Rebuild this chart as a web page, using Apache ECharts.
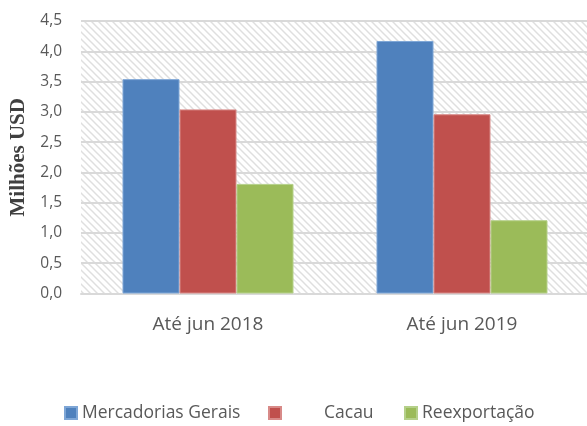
<!DOCTYPE html>
<html><head><meta charset="utf-8">
<script src="https://cdn.jsdelivr.net/npm/echarts@6/dist/echarts.min.js"></script>
<style>html,body{margin:0;padding:0;background:#fff}#c{width:587px;height:426px}</style>
</head><body><div id="c"></div>
<script>
const categories = ['Até jun 2018', 'Até jun 2019'];
const seriesNames = ['Mercadorias Gerais', 'Cacau', 'Reexportação'];
const mercadorias = [3.54, 4.17];
const cacau = [3.04, 2.96];
const reexportacao = [1.81, 1.21];
const yTicks = ['0,0','0,5','1,0','1,5','2,0','2,5','3,0','3,5','4,0','4,5'];
const colors = ['#4f81bd', '#c0504d', '#9bbb59'];
const borders = ['#7ea6d6', '#d88a88', '#b5d08a'];

const pc = document.createElement('canvas');
pc.width = 7; pc.height = 7;
const g = pc.getContext('2d');
g.fillStyle = '#ffffff'; g.fillRect(0,0,7,7);
g.strokeStyle = '#dfdfdf'; g.lineWidth = 1.5;
for (let k = -7; k <= 7; k += 7) { g.beginPath(); g.moveTo(k-1, -1); g.lineTo(k+8, 8); g.stroke(); }

const chart = echarts.init(document.getElementById('c'));
const data = [mercadorias, cacau, reexportacao];
const legendPos = [{left: 64, pad: 0}, {left: 268, pad: 38}, {left: 404, pad: 0}];
chart.setOption({
  animation: false,
  grid: {left: 81, width: 508, top: 21, bottom: 132.5, show: true, borderWidth: 0,
         outerBoundsMode: 'none', containLabel: false,
         backgroundColor: {image: pc, repeat: 'repeat'}},
  legend: seriesNames.map((n, i) => ({
    data: [n], left: legendPos[i].left, top: 404, padding: 0, itemWidth: 12, itemHeight: 12, itemGap: 0,
    icon: 'rect', textStyle: {fontFamily: 'Open Sans', fontSize: 17.5, color: '#595959',
      padding: [0, 0, 0, legendPos[i].pad]}
  })),
  xAxis: {type: 'category', data: categories,
    axisLine: {lineStyle: {color: '#d9d9d9', width: 2}}, axisTick: {show: false},
    axisLabel: {fontFamily: 'Open Sans', fontSize: 19, color: '#595959', margin: 22}},
  yAxis: {type: 'value', min: 0, max: 4.5, interval: 0.5,
    name: 'Milhões USD', nameLocation: 'middle', nameGap: 50, nameRotate: 90,
    nameTextStyle: {fontFamily: 'Liberation Serif', fontWeight: 'bold', fontSize: 21, color: '#404040'},
    axisLine: {show: false}, axisTick: {show: false},
    splitLine: {lineStyle: {color: '#d9d9d9', width: 2}},
    axisLabel: {fontFamily: 'Open Sans', fontSize: 15.5, color: '#595959', margin: 19,
      formatter: v => yTicks[Math.round(v * 2)]}},
  series: seriesNames.map((n, i) => ({
    name: n, type: 'bar', data: data[i], barWidth: 57, barGap: '0%',
    itemStyle: {color: colors[i], borderColor: borders[i], borderWidth: 1}
  }))
});
</script></body></html>
